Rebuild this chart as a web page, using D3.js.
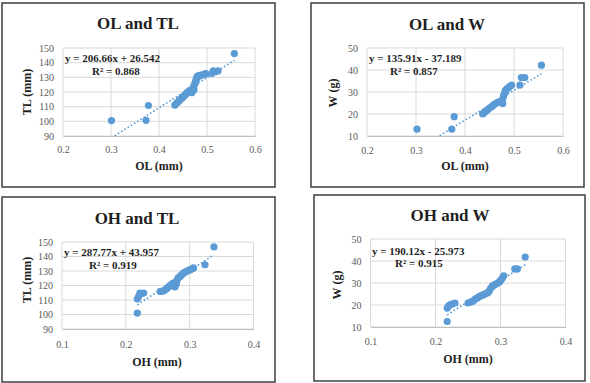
<!DOCTYPE html>
<html><head><meta charset="utf-8">
<script src="https://cdn.jsdelivr.net/npm/d3@7"></script>
<style>
html,body{margin:0;padding:0;background:#fff;}
svg{display:block;}
</style></head>
<body>
<svg id="c" width="590" height="383"></svg>
<script>
// ---- data ----
const panelTitles = ["OL and TL", "OL and W", "OH and TL", "OH and W"];
const xTitles = ["OL (mm)", "OL (mm)", "OH (mm)", "OH (mm)"];
const yTitles = ["TL (mm)", "W (g)", "TL (mm)", "W (g)"];
const xTicksOL = [0.2, 0.3, 0.4, 0.5, 0.6];
const xTicksOH = [0.1, 0.2, 0.3, 0.4];
const yTicksTL = [90, 100, 110, 120, 130, 140, 150];
const yTicksW = [10, 20, 30, 40, 50];
const eqTexts = ["y = 206.66x + 26.542", "y = 135.91x - 37.189", "y = 287.77x + 43.957", "y = 190.12x - 25.973"];
const r2Texts = ["R² = 0.868", "R² = 0.857", "R² = 0.919", "R² = 0.915"];
const slopes = [206.66, 135.91, 287.77, 190.12];
const intercepts = [26.542, -37.189, 43.957, -25.973];

const olTL_OL = [0.301,0.373,0.378,0.433,0.437,0.440,0.442,0.444,0.447,0.449,0.451,0.454,0.456,0.458,0.460,0.463,0.465,0.468,0.470,0.468,0.473,0.472,0.473,0.475,0.476,0.477,0.478,0.479,0.481,0.484,0.486,0.490,0.494,0.497,0.510,0.513,0.517,0.523,0.557];
const olTL_TL = [100.5,100.7,110.8,111.0,112.5,113.3,114.2,114.9,115.6,116.3,117.0,117.8,118.6,119.4,120.0,120.7,121.2,121.7,120.5,119.5,121.5,123.5,124.5,125.8,127.0,128.0,129.2,130.3,130.8,131.4,131.0,131.7,132.1,132.5,132.6,134.4,133.8,134.4,146.2];

const olW_OL = [0.302,0.373,0.378,0.436,0.438,0.441,0.444,0.447,0.450,0.454,0.457,0.461,0.464,0.468,0.472,0.475,0.477,0.476,0.478,0.479,0.480,0.482,0.484,0.486,0.489,0.491,0.495,0.512,0.515,0.522,0.556];
const olW_W = [13.1,13.1,18.8,20.0,20.4,21.0,21.6,22.1,22.7,23.3,23.9,24.5,25.0,25.4,25.7,26.0,24.8,25.2,27.6,28.4,29.1,30.5,31.0,31.6,32.0,32.4,33.1,33.1,36.6,36.6,42.2];

const ohTL_OH = [0.218,0.218,0.220,0.222,0.225,0.228,0.254,0.257,0.260,0.263,0.265,0.267,0.269,0.272,0.274,0.277,0.279,0.280,0.282,0.284,0.286,0.288,0.290,0.293,0.295,0.298,0.301,0.304,0.306,0.324,0.338];
const ohTL_TL = [101.0,110.7,112.5,114.8,114.5,114.8,115.9,116.0,116.4,117.5,118.3,119.0,119.9,120.8,121.7,119.0,121.0,123.5,125.2,125.8,126.8,127.5,128.6,129.3,129.7,130.4,130.9,131.5,132.1,134.3,146.6];

const ohW_OH = [0.218,0.218,0.220,0.222,0.226,0.230,0.250,0.253,0.256,0.259,0.261,0.264,0.266,0.269,0.271,0.274,0.276,0.279,0.281,0.283,0.285,0.287,0.288,0.291,0.294,0.297,0.299,0.301,0.303,0.305,0.322,0.326,0.338];
const ohW_W = [12.5,18.6,19.5,20.1,20.5,20.9,20.9,21.2,21.5,22.1,22.7,23.1,23.6,24.0,24.4,24.7,25.0,25.3,25.7,26.5,27.7,28.3,28.8,29.2,29.7,30.2,30.7,31.5,32.3,33.3,36.4,36.4,41.8];

// ---- layout ----
const layouts = [
  {box:[2,3,275,187], px:[63,255], py:[48,136], title:[138,23], xt:[159,166], yt:[27,92], eq:[65,58], r2:[92,71], tickY:150},
  {box:[311,3,584,187], px:[367,563], py:[48,136], title:[447,24], xt:[465,166], yt:[333,93], eq:[369,58], r2:[390,71], tickY:151},
  {box:[2,197,275,382], px:[62,253.5], py:[242,329], title:[137,218], xt:[157,362], yt:[27,280], eq:[64,252], r2:[89,265], tickY:345},
  {box:[314,195,585,381], px:[370.5,565.5], py:[239,327], title:[450,215], xt:[468,359], yt:[337,285], eq:[372,251], r2:[395,263], tickY:342}
];

const panels = [
  {xs: olTL_OL, ys: olTL_TL, xTicks: xTicksOL, yTicks: yTicksTL},
  {xs: olW_OL, ys: olW_W, xTicks: xTicksOL, yTicks: yTicksW},
  {xs: ohTL_OH, ys: ohTL_TL, xTicks: xTicksOH, yTicks: yTicksTL},
  {xs: ohW_OH, ys: ohW_W, xTicks: xTicksOH, yTicks: yTicksW}
];

const FONT = "'Liberation Serif', 'Times New Roman', 'DejaVu Serif', serif";
const svg = d3.select("#c");
const blue = "#5B9BD5";

panels.forEach((p, i) => {
  const L = layouts[i];
  const g = svg.append("g");
  g.append("rect").attr("x", L.box[0]).attr("y", L.box[1])
    .attr("width", L.box[2]-L.box[0]).attr("height", L.box[3]-L.box[1])
    .attr("fill", "#fff").attr("stroke", "#3f3f3f").attr("stroke-width", 1.5);

  const x = d3.scaleLinear().domain(d3.extent(p.xTicks)).range(L.px);
  const y = d3.scaleLinear().domain(d3.extent(p.yTicks)).range([L.py[1], L.py[0]]);

  // grid
  g.append("g").selectAll("line").data(p.xTicks).join("line")
    .attr("x1", d => x(d)).attr("x2", d => x(d)).attr("y1", L.py[0]).attr("y2", L.py[1])
    .attr("stroke", "#d9d9d9").attr("stroke-width", 1);
  g.append("g").selectAll("line").data(p.yTicks).join("line")
    .attr("x1", L.px[0]).attr("x2", L.px[1]).attr("y1", d => y(d)).attr("y2", d => y(d))
    .attr("stroke", "#d9d9d9").attr("stroke-width", 1);

  // axes
  const xAxis = g.append("g").attr("transform", `translate(0,${L.py[1]})`)
    .call(d3.axisBottom(x).tickValues(p.xTicks).tickSize(0).tickPadding(L.tickY - L.py[1] - 4).tickFormat(d3.format(".1f")));
  const yAxis = g.append("g").attr("transform", `translate(${L.px[0]},0)`)
    .call(d3.axisLeft(y).tickValues(p.yTicks).tickSize(0).tickPadding(9).tickFormat(d3.format("d")));
  [xAxis, yAxis].forEach(a => {
    a.attr("font-family", null);
    a.select(".domain").attr("stroke", "#bfbfbf");
    a.selectAll("text").style("font-family", FONT).style("font-size", "10px").attr("fill", "#595959");
  });
  yAxis.select(".domain").remove();

  // clip
  const cid = "clip" + i;
  svg.append("clipPath").attr("id", cid).append("rect")
    .attr("x", L.px[0]).attr("y", L.py[0]).attr("width", L.px[1]-L.px[0]).attr("height", L.py[1]-L.py[0]);

  // points
  const pts = p.xs.map((v, k) => [v, p.ys[k]]);
  g.append("g").selectAll("circle").data(pts).join("circle")
    .attr("cx", d => x(d[0])).attr("cy", d => y(d[1])).attr("r", 3.6).attr("fill", blue);

  // trendline
  const xr = d3.extent(p.xs);
  const line = d3.line().x(d => x(d)).y(d => y(slopes[i]*d + intercepts[i]));
  g.append("path").attr("d", line(xr)).attr("clip-path", `url(#${cid})`)
    .attr("fill", "none").attr("stroke", blue).attr("stroke-width", 1.6).attr("stroke-dasharray", "1.6,2.2");

  const txt = (xx, yy, s, size, anchor) => g.append("text").attr("x", xx).attr("y", yy).attr("dy", "0.35em")
    .attr("text-anchor", anchor).style("font-family", FONT).style("font-size", size + "px")
    .style("font-weight", "bold").attr("fill", "#1f1f1f").text(s);

  txt(L.title[0], L.title[1], panelTitles[i], 17, "middle");
  txt(L.xt[0], L.xt[1], xTitles[i], 12, "middle");
  g.append("text").attr("transform", `translate(${L.yt[0]},${L.yt[1]}) rotate(-90)`).attr("dy", "0.35em")
    .attr("text-anchor", "middle").style("font-family", FONT).style("font-size", "12px")
    .style("font-weight", "bold").attr("fill", "#1f1f1f").text(yTitles[i]);
  txt(L.eq[0], L.eq[1], eqTexts[i], 11, "start");
  txt(L.r2[0], L.r2[1], r2Texts[i], 11, "start");
});
</script>
</body></html>
